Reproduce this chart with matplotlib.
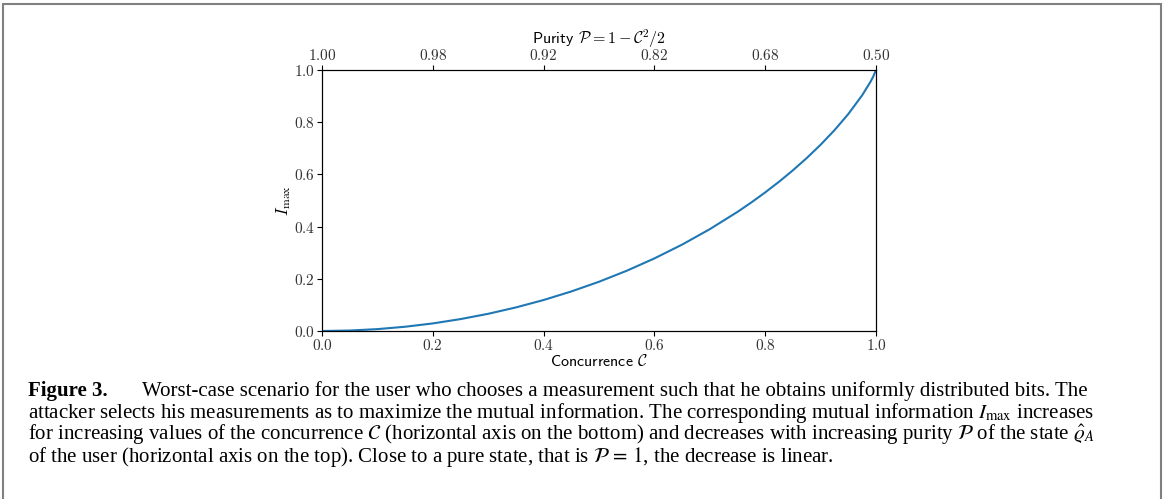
import matplotlib
matplotlib.use("Agg")
from matplotlib import pyplot as plt
from matplotlib.patches import Rectangle

plt.rcParams['mathtext.fontset'] = 'cm'

# concurrence values and the maximal mutual information
concurrence = [0.0, 0.05, 0.10, 0.15, 0.20, 0.25, 0.30, 0.35, 0.40, 0.45, 0.50,
               0.55, 0.60, 0.65, 0.70, 0.75, 0.775, 0.80, 0.825, 0.85, 0.875,
               0.90, 0.925, 0.95, 0.975, 0.99, 0.995, 1.0]
i_max = [0.0, 0.0018, 0.0072, 0.0163, 0.0290, 0.0456, 0.0659, 0.0903, 0.1187,
         0.1515, 0.1887, 0.2308, 0.2781, 0.3310, 0.3902, 0.4564, 0.4926,
         0.5310, 0.5719, 0.6157, 0.6627, 0.7136, 0.7693, 0.8313, 0.9031,
         0.9546, 0.9748, 1.0]

bottom_ticks = [0.0, 0.2, 0.4, 0.6, 0.8, 1.0]
top_labels = ["1.00", "0.98", "0.92", "0.82", "0.68", "0.50"]
y_ticks = [0.0, 0.2, 0.4, 0.6, 0.8, 1.0]

caption_head = "Figure 3."
caption = [
    r"Worst-case scenario for the user who chooses a measurement such that he obtains uniformly distributed bits. The",
    r"attacker selects his measurements as to maximize the mutual information. The corresponding mutual information $I_{\mathrm{max}}$ increases",
    r"for increasing values of the concurrence $\mathcal{C}$ (horizontal axis on the bottom) and decreases with increasing purity $\mathcal{P}$ of the state $\hat{\varrho}_A$",
    r"of the user (horizontal axis on the top). Close to a pure state, that is $\mathcal{P}\,=\,1$, the decrease is linear.",
]

W, H = 1165, 499
fig = plt.figure(figsize=(W / 100, H / 100), dpi=100)
fig.patches.append(Rectangle((3 / W, -0.05), 1158 / W, 1.05 - 4 / H,
                             transform=fig.transFigure, fill=False,
                             edgecolor="#808080", linewidth=1.5))

ax = fig.add_axes([322 / W, 1 - 331 / H, 554 / W, 261 / H])
ax.plot(concurrence, i_max, color="#1f77b4", linewidth=1.5)
ax.set_xlim(0, 1)
ax.set_ylim(0, 1)

tick_color = "#333333"
ax.set_xticks(bottom_ticks)
ax.set_xticklabels(["$%.1f$" % t for t in bottom_ticks])
ax.set_yticks(y_ticks)
ax.set_yticklabels(["$%.1f$" % t for t in y_ticks])
ax.tick_params(labelsize=11, labelcolor=tick_color, length=3.5, pad=1.5)
ax.set_xlabel(r"Concurrence $\mathcal{C}$", fontfamily="cmss10",
              fontsize=11.5, labelpad=0)
ax.set_ylabel(r"$I_{\mathrm{max}}$", fontsize=12, labelpad=1)

top = ax.twiny()
top.set_xlim(0, 1)
top.set_xticks(bottom_ticks)
top.set_xticklabels(["$%s$" % s for s in top_labels])
top.tick_params(labelsize=11, labelcolor=tick_color, length=3.5, pad=1.5)
top.set_xlabel(r"Purity $\mathcal{P} = 1 - \mathcal{C}^2/2$",
               fontfamily="cmss10", fontsize=11.5, labelpad=3)

fs = 15
fig.text(28 / W, 1 - 396 / H, caption_head, fontfamily="Liberation Serif",
         fontweight="bold", fontsize=fs, va="baseline")
for k, line in enumerate(caption):
    x0 = 142 if k == 0 else 28
    fig.text(x0 / W, 1 - (396 + 22 * k) / H, line,
             fontfamily="Liberation Serif", fontsize=fs, va="baseline",
             math_fontfamily="stix")

fig.savefig("out.png", dpi=100)
